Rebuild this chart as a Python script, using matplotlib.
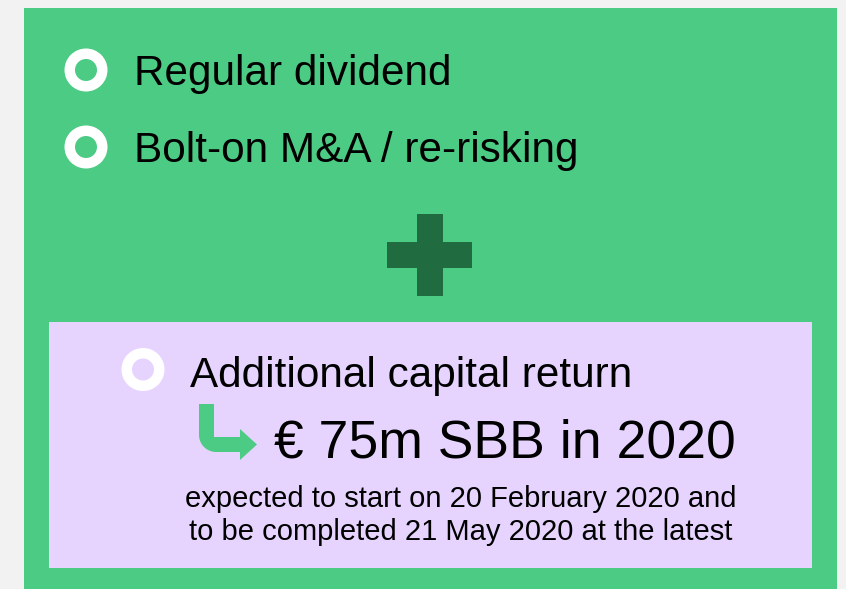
import matplotlib.pyplot as plt
from matplotlib.patches import Rectangle, Wedge, PathPatch
from matplotlib.path import Path

plt.rcParams['font.family'] = ['Liberation Sans', 'DejaVu Sans']

# content
bullets = ["Regular dividend", "Bolt-on M&A / re-risking"]
bullet_y = [70, 147]
extra_label = "Additional capital return"
sbb_label = "\u20ac 75m SBB in 2020"
note_lines = ["expected to start on 20 February 2020 and",
              "to be completed 21 May 2020 at the latest"]

GREEN = "#4ccb84"
DARK = "#206b40"
LILAC = "#e6d4ff"
BG = "#f2f2f2"

W, H = 846, 589
fig = plt.figure(figsize=(W / 100, H / 100), dpi=100)
fig.patch.set_facecolor(BG)
ax = fig.add_axes([0, 0, 1, 1])
ax.set_xlim(0, W)
ax.set_ylim(H, 0)
ax.axis("off")

# panels
ax.add_patch(Rectangle((24, 8), 813, 600, color=GREEN, lw=0))
ax.add_patch(Rectangle((49, 322), 763, 246, color=LILAC, lw=0))


def ring(x, y):
    ax.add_patch(Wedge((x, y), 21.5, 0, 360, width=10.5, color="white", lw=0))


for label, y in zip(bullets, bullet_y):
    ring(86, y)
    ax.text(134, y + 15, label, fontsize=30.4, va="baseline", ha="left", color="black")

# plus sign
ax.add_patch(Rectangle((387, 242), 85, 26, color=DARK, lw=0))
ax.add_patch(Rectangle((417, 214), 26, 82, color=DARK, lw=0))

# lower box
ring(143, 369.5)
ax.text(190, 387, extra_label, fontsize=30.4, va="baseline", ha="left", color="black")

# bent arrow
k = 0.55
verts = [(199, 404), (214, 404), (214, 437), (240, 437), (240, 429),
         (257, 444.5), (240, 460), (240, 452), (216, 452),
         (216 - 17 * k, 452), (199, 435 + 17 * k), (199, 435), (199, 404)]
codes = [Path.MOVETO] + [Path.LINETO] * 8 + [Path.CURVE4] * 3 + [Path.CLOSEPOLY]
ax.add_patch(PathPatch(Path(verts, codes), color=GREEN, lw=0))

ax.text(274, 458, sbb_label, fontsize=38.5, va="baseline", ha="left", color="black")

for i, line in enumerate(note_lines):
    ax.text(461, 507 + 33 * i, line, fontsize=21, va="baseline", ha="center", color="black")

fig.savefig("out.png", dpi=100, facecolor=BG)
